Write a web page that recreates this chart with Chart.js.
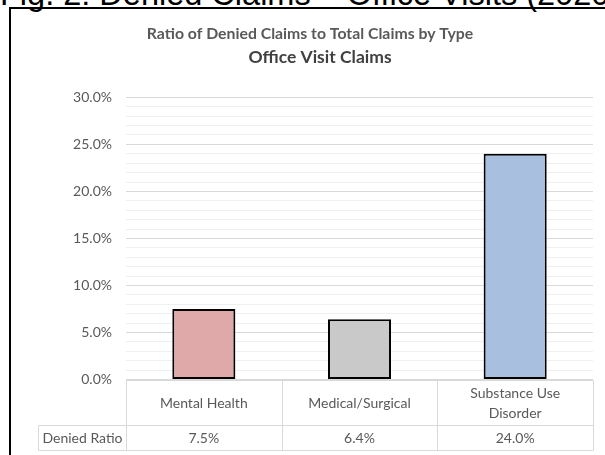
<!DOCTYPE html>
<html>
<head>
<meta charset="utf-8">
<script src="https://cdn.jsdelivr.net/npm/chart.js@4.4.1/dist/chart.umd.min.js"></script>
<style>
    html, body { margin: 0; padding: 0; background: #fff; overflow: hidden; }
    #wrap { position: relative; width: 605px; height: 455px; overflow: hidden; }
    #figTitle {
        position: absolute; left: 0; top: -22.5px;
        font: 32.5px "Liberation Sans", Arial, sans-serif; line-height: 32.5px;
        white-space: nowrap; color: #000;
    }
    #frame {
        position: absolute; left: 9px; top: 7px; width: 700px; height: 500px;
        border-left: 2px solid #000; border-top: 2px solid #000; pointer-events: none;
    }
    #deniedChart { position: absolute; left: 0; top: 0; }
</style>
</head>
<body>
<div id="wrap">
    <div id="figTitle">Fig. 2: Denied Claims – Office Visits (2020)</div>
    <canvas id="deniedChart" width="605" height="455"></canvas>
    <div id="frame"></div>
</div>
<script>
// Chart data
const categories = [['Mental Health'], ['Medical/Surgical'], ['Substance Use', 'Disorder']];
const deniedRatio = [7.5, 6.4, 24.0];
const barColors = ['#DEA9A8', '#C9C9C9', '#A9BFDF'];
const rowLabel = 'Denied Ratio';
const yMax = 30;
const yMajorStep = 5;

const chartTitle = 'Ratio of Denied Claims to Total Claims by Type';
const chartSubtitle = 'Office Visit Claims';

const textColor = '#595959';
const tableLine = '#D9D9D9';
const fontFamily = 'Lato, Carlito, Calibri, sans-serif';

class ChartManager {
    constructor() {
        this.init();
    }

    init() {
        this.setupChart();
    }

    // Subtitle sits a bit right of the main title in the original
    subtitleShiftPlugin() {
        return {
            id: 'subtitleShift',
            afterLayout(chart) {
                chart.boxes.forEach((b) => {
                    if (b.options && b.options.text === chartSubtitle) {
                        b.left += 10;
                        b.right += 10;
                    }
                });
            }
        };
    }

    // Data table under the bars (category row + value row)
    dataTablePlugin() {
        return {
            id: 'dataTable',
            beforeDatasetsDraw(chart) {
                const { ctx, chartArea, scales: { x } } = chart;
                const half = (x.getPixelForValue(1) - x.getPixelForValue(0)) / 2;
                const top = Math.round(chartArea.bottom) + 0.5;
                const split = top + 45;
                const bottom = Math.round(x.bottom) + 0.5;
                const headLeft = 38.5;
                const left = Math.round(chartArea.left) + 0.5;

                ctx.save();
                ctx.strokeStyle = tableLine;
                ctx.lineWidth = 1;
                ctx.beginPath();
                ctx.moveTo(left, top); ctx.lineTo(chartArea.right, top);
                ctx.moveTo(headLeft, split); ctx.lineTo(chartArea.right, split);
                ctx.moveTo(headLeft, bottom); ctx.lineTo(chartArea.right, bottom);
                ctx.moveTo(headLeft, split); ctx.lineTo(headLeft, bottom);
                for (let i = 0; i <= categories.length; i++) {
                    const px = Math.round(x.getPixelForValue(i) - half) + 0.5;
                    ctx.moveTo(px, top); ctx.lineTo(px, bottom);
                }
                ctx.stroke();

                ctx.fillStyle = textColor;
                ctx.font = '14px ' + fontFamily;
                ctx.textAlign = 'center';
                ctx.textBaseline = 'middle';
                const rowMid = (top + split) / 2;
                const lineH = 20;
                categories.forEach((lines, i) => {
                    const cx = x.getPixelForValue(i);
                    const y0 = rowMid - (lines.length - 1) * lineH / 2;
                    lines.forEach((t, j) => ctx.fillText(t, cx, y0 + j * lineH));
                    ctx.fillText(deniedRatio[i].toFixed(1) + '%', cx, (split + bottom) / 2);
                });
                ctx.fillText(rowLabel, (headLeft + left) / 2, (split + bottom) / 2);
                ctx.restore();
            }
        };
    }

    setupChart() {
        const ctx = document.getElementById('deniedChart');
        if (!ctx) return;

        new Chart(ctx.getContext('2d'), {
            type: 'bar',
            data: {
                labels: categories.map(c => c.join(' ')),
                datasets: [{
                    label: rowLabel,
                    data: deniedRatio,
                    backgroundColor: barColors,
                    borderColor: '#000',
                    borderWidth: 2,
                    borderSkipped: false,
                    barPercentage: 0.405,
                    categoryPercentage: 1
                }]
            },
            options: {
                responsive: false,
                animation: false,
                layout: { padding: { left: 27, right: 12, top: 0, bottom: 5 } },
                plugins: {
                    legend: { display: false },
                    tooltip: { enabled: false },
                    title: {
                        display: true,
                        text: chartTitle,
                        color: textColor,
                        font: { family: fontFamily, size: 15.8, weight: 'bold', lineHeight: 1.2 },
                        padding: { top: 24.5, bottom: 0 }
                    },
                    subtitle: {
                        display: true,
                        text: chartSubtitle,
                        color: '#404040',
                        font: { family: fontFamily, size: 17.5, weight: 'bold', lineHeight: 1.2 },
                        padding: { top: 3.5, bottom: 29.4 }
                    }
                },
                scales: {
                    x: {
                        ticks: { display: false },
                        grid: { display: false },
                        border: { display: false },
                        afterFit: (scale) => { scale.height = 70.5; }
                    },
                    y: {
                        min: 0,
                        max: yMax,
                        ticks: {
                            stepSize: 1,
                            autoSkip: false,
                            padding: 14,
                            color: textColor,
                            font: { family: fontFamily, size: 14 },
                            callback: (v) => v % yMajorStep === 0 ? v.toFixed(1) + '%' : ''
                        },
                        grid: {
                            drawTicks: false,
                            color: (c) => c.tick.value % yMajorStep === 0 ? '#D9D9D9' : '#EFEFEF'
                        },
                        border: { display: false },
                        afterFit: (scale) => { scale.width = 99; }
                    }
                }
            },
            plugins: [this.subtitleShiftPlugin(), this.dataTablePlugin()]
        });
    }
}

document.addEventListener('DOMContentLoaded', function() {
    new ChartManager();
});
</script>
</body>
</html>
